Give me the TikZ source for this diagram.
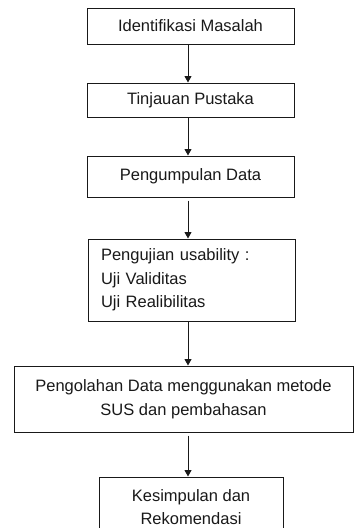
\documentclass[tikz,border=0pt]{standalone}
\usepackage{fontspec}
\setmainfont{Liberation Sans}
\usetikzlibrary{arrows.meta}
\begin{document}
\begin{tikzpicture}[x=1pt,y=-1pt,
  box/.style={draw=black!90, line width=1pt, minimum width=#1, inner sep=0pt, align=center,
    font=\fontsize{16.5}{23.5}\selectfont, text=black!90},
  arr/.style={draw=black!90, line width=1pt, -{Triangle[width=7pt,length=6.5pt]}}]
\useasboundingbox (0,0) rectangle (354,528);
\clip (0,0) rectangle (354,528);
\fill[white] (0,0) rectangle (354,528);
\coordinate (ax) at (188,0);
\node[box=207pt, minimum height=36pt] (b1) at (190.5,26) {Identifikasi Masalah};
\node[box=207pt, minimum height=34pt] (b2) at (190.5,100) {Tinjauan Pustaka};
\node[box=207pt, minimum height=41pt] (b3) at (190.5,176.5) {Pengumpulan Data};
\node[box=207pt, minimum height=82pt, text width=181pt, align=left] (b4) at (191.5,280) {Pengujian usability :\\Uji Validitas\\Uji Realibilitas};
\node[box=339pt, minimum height=66pt] (b5) at (183.5,399) {Pengolahan Data menggunakan metode\\SUS dan pembahasan};
\node[box=184pt, minimum height=60pt] (b6) at (191,507) {Kesimpulan dan\\Rekomendasi};
\draw[arr] (b1.south -| ax) -- (b2.north -| ax);
\draw[arr] (b2.south -| ax) -- (b3.north -| ax);
\draw[arr, shorten <=3pt] (b3.south -| ax) -- (b4.north -| ax);
\draw[arr] (b4.south -| ax) -- (b5.north -| ax);
\draw[arr, shorten <=3pt] (b5.south -| ax) -- (b6.north -| ax);
\end{tikzpicture}
\end{document}
